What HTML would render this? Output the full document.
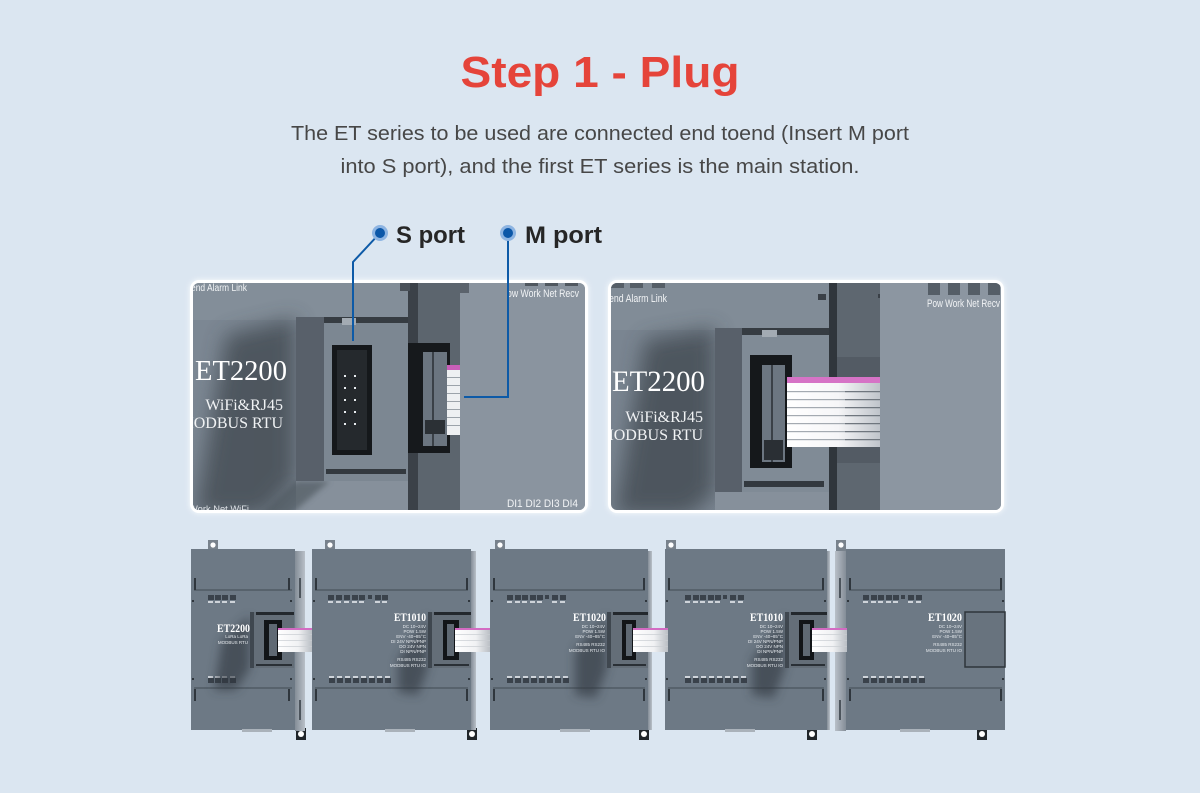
<!DOCTYPE html>
<html><head><meta charset="utf-8">
<style>
html,body{margin:0;padding:0;background:#dbe6f1;}
svg{display:block}
</style></head><body>
<svg width="1200" height="793" viewBox="0 0 1200 793" xmlns="http://www.w3.org/2000/svg" font-family="Liberation Sans, sans-serif">
<defs>
 <clipPath id="cl"><rect x="193" y="283" width="392" height="227" rx="6"/></clipPath>
 <clipPath id="cr"><rect x="611" y="283" width="390" height="227" rx="6"/></clipPath>
 <filter id="b3" x="-50%" y="-50%" width="200%" height="200%"><feGaussianBlur stdDeviation="3"/></filter>
 <filter id="b5" x="-50%" y="-50%" width="200%" height="200%"><feGaussianBlur stdDeviation="5"/></filter>
 <filter id="b10" x="-50%" y="-50%" width="200%" height="200%"><feGaussianBlur stdDeviation="10"/></filter>
 <linearGradient id="rib" x1="0" x2="1"><stop offset="0" stop-color="#ffffff"/><stop offset="0.55" stop-color="#f6f6f8"/><stop offset="1" stop-color="#bfc4ca"/></linearGradient>
 <linearGradient id="ribs" x1="0" x2="1"><stop offset="0" stop-color="#ffffff"/><stop offset="0.6" stop-color="#f0f1f3"/><stop offset="1" stop-color="#b9bec4"/></linearGradient>
 <linearGradient id="side" x1="0" x2="1"><stop offset="0" stop-color="#848d97"/><stop offset="1" stop-color="#b9c0c8"/></linearGradient>
 <linearGradient id="sideL" x1="0" x2="1"><stop offset="0" stop-color="#b9c0c8"/><stop offset="1" stop-color="#848d97"/></linearGradient>
</defs>
<rect width="1200" height="793" fill="#dbe6f1"/>

<!-- Title -->
<text x="600" y="87" text-anchor="middle" font-size="44" font-weight="bold" fill="#e5443a" textLength="279" lengthAdjust="spacingAndGlyphs">Step 1 - Plug</text>
<text x="600" y="140" text-anchor="middle" font-size="20" fill="#474747" textLength="618" lengthAdjust="spacingAndGlyphs">The ET series to be used are connected end toend (Insert M port</text>
<text x="600" y="173" text-anchor="middle" font-size="20" fill="#474747" textLength="519" lengthAdjust="spacingAndGlyphs">into S port), and the first ET series is the main station.</text>

<!-- ============ LEFT PANEL ============ -->
<rect x="190" y="280" width="398" height="233" rx="9" fill="#ffffff" opacity="0.9" filter="url(#b3)"/>
<rect x="190" y="280" width="398" height="233" rx="9" fill="#ffffff"/>
<g clip-path="url(#cl)">
 <rect x="190" y="280" width="400" height="235" fill="#7c8793"/>
 <rect x="190" y="280" width="218" height="40" fill="#838e99"/>
 <polygon points="226,335 296,318 296,480 265,515 195,515" fill="#3a4249" opacity="0.7" filter="url(#b10)"/>
 <rect x="296" y="481" width="112" height="34" fill="#86909b"/>
 <polygon points="296,481 330,481 290,515 260,515" fill="#4a525a" opacity="0.6" filter="url(#b3)"/>
 <!-- cover -->
 <rect x="296" y="317" width="28" height="164" fill="#58606a"/>
 <rect x="324" y="317" width="84" height="164" fill="#7c8792"/>
 <rect x="324" y="317" width="84" height="6" fill="#363c42"/>
 <rect x="342" y="318" width="14" height="7" fill="#a3abb3"/>
 <rect x="326" y="469" width="80" height="5" fill="#33393f"/>
 <!-- S connector -->
 <rect x="332" y="345" width="40" height="110" fill="#15181b"/>
 <rect x="337" y="350" width="30" height="100" fill="#25292d"/>
 <g fill="#e8ecef">
  <rect x="344" y="375" width="2" height="2"/><rect x="354" y="375" width="2" height="2"/>
  <rect x="344" y="387" width="2" height="2"/><rect x="354" y="387" width="2" height="2"/>
  <rect x="344" y="399" width="2" height="2"/><rect x="354" y="399" width="2" height="2"/>
  <rect x="344" y="411" width="2" height="2"/><rect x="354" y="411" width="2" height="2"/>
  <rect x="344" y="423" width="2" height="2"/><rect x="354" y="423" width="2" height="2"/>
 </g>
 <!-- dark column -->
 <rect x="408" y="280" width="52" height="235" fill="#5c656e"/>
 <rect x="408" y="280" width="10" height="235" fill="#3b4148"/>
 <rect x="400" y="283" width="10" height="8" fill="#4a5159"/>
 <!-- M connector -->
 <rect x="408" y="343" width="42" height="110" fill="#16191c"/>
 <rect x="423" y="352" width="24" height="94" fill="#6b7580"/>
 <rect x="432" y="352" width="2" height="94" fill="#3a4047"/>
 <rect x="425" y="420" width="20" height="14" fill="#2b3035"/>
 <!-- ribbon -->
 <rect x="447" y="365" width="13" height="70" fill="#eef0f2"/>
 <rect x="447" y="365" width="13" height="5" fill="#c95fb9"/>
 <g fill="#9ca3aa">
  <rect x="447" y="377" width="13" height="1"/><rect x="447" y="385" width="13" height="1"/>
  <rect x="447" y="393" width="13" height="1"/><rect x="447" y="401" width="13" height="1"/>
  <rect x="447" y="409" width="13" height="1"/><rect x="447" y="417" width="13" height="1"/>
  <rect x="447" y="425" width="13" height="1"/>
 </g>
 <!-- right face -->
 <rect x="460" y="280" width="130" height="235" fill="#8a949f"/>
 <rect x="460" y="283" width="9" height="10" fill="#5b636c"/>
 <g fill="#505860">
  <rect x="525" y="283" width="13" height="3"/><rect x="545" y="283" width="13" height="3"/><rect x="565" y="283" width="13" height="3"/>
 </g>
 <!-- labels -->
 <text x="191" y="291" font-size="10" fill="#f2f4f6" textLength="56" lengthAdjust="spacingAndGlyphs">end Alarm Link</text>
 <text x="507" y="297" font-size="11" fill="#f2f4f6" textLength="72" lengthAdjust="spacingAndGlyphs">ow  Work  Net  Recv</text>
 <text x="507" y="507" font-size="11" fill="#f2f4f6" textLength="71" lengthAdjust="spacingAndGlyphs">DI1  DI2  DI3  DI4</text>
 <text x="189" y="512" font-size="9" fill="#e0e4e8" textLength="60" lengthAdjust="spacingAndGlyphs">Work  Net  WiFi</text>
 <text x="195" y="380" font-family="Liberation Serif, serif" font-size="28" fill="#ffffff" textLength="92" lengthAdjust="spacingAndGlyphs">ET2200</text>
 <text x="283" y="410" text-anchor="end" font-family="Liberation Serif, serif" font-size="16" fill="#f0f2f4">WiFi&amp;RJ45</text>
 <text x="283" y="428" text-anchor="end" font-family="Liberation Serif, serif" font-size="16" fill="#f0f2f4">MODBUS  RTU</text>
</g>

<!-- ============ RIGHT PANEL ============ -->
<rect x="608" y="280" width="396" height="233" rx="9" fill="#ffffff" opacity="0.9" filter="url(#b3)"/>
<rect x="608" y="280" width="396" height="233" rx="9" fill="#ffffff"/>
<g clip-path="url(#cr)">
 <rect x="608" y="280" width="400" height="235" fill="#7a8591"/>
 <rect x="608" y="280" width="224" height="50" fill="#818c97"/>
 <polygon points="645,340 715,328 715,492 690,515 615,515" fill="#3a4249" opacity="0.7" filter="url(#b10)"/>
 <rect x="715" y="492" width="114" height="23" fill="#86909b"/>
 <!-- cover -->
 <rect x="715" y="328" width="27" height="164" fill="#58606a"/>
 <rect x="742" y="328" width="87" height="164" fill="#808b96"/>
 <rect x="742" y="328" width="87" height="7" fill="#363c42"/>
 <rect x="762" y="330" width="15" height="7" fill="#a3abb3"/>
 <rect x="744" y="481" width="80" height="6" fill="#33393f"/>
 <!-- dark column -->
 <rect x="829" y="280" width="51" height="235" fill="#5e6770"/>
 <rect x="829" y="280" width="8" height="235" fill="#30363c"/>
 <rect x="837" y="357" width="43" height="20" fill="#535b64"/>
 <rect x="837" y="447" width="43" height="16" fill="#535b64"/>
 <path d="M818 294 h8 v6 h-8z M878 294 h10 v4 h-10z" fill="#3a4047"/>
 <!-- connector -->
 <rect x="750" y="355" width="42" height="113" fill="#15181b"/>
 <rect x="762" y="365" width="23" height="97" fill="#6c7681"/>
 <rect x="771" y="365" width="2" height="97" fill="#3a4047"/>
 <rect x="764" y="440" width="19" height="20" fill="#2a2f34"/>
 <!-- ribbon -->
 <rect x="787" y="377" width="93" height="70" fill="url(#rib)"/>
 <rect x="787" y="377" width="93" height="6" fill="#d673c6"/>
 <g fill="#a4aab1">
  <rect x="787" y="391" width="93" height="1.2"/><rect x="787" y="399" width="93" height="1.2"/>
  <rect x="787" y="407" width="93" height="1.2"/><rect x="787" y="415" width="93" height="1.2"/>
  <rect x="787" y="423" width="93" height="1.2"/><rect x="787" y="431" width="93" height="1.2"/>
  <rect x="787" y="439" width="93" height="1.2"/>
 </g>
 <g fill="#6f767e">
  <rect x="845" y="391" width="35" height="1.2"/><rect x="845" y="399" width="35" height="1.2"/>
  <rect x="845" y="407" width="35" height="1.2"/><rect x="845" y="415" width="35" height="1.2"/>
  <rect x="845" y="423" width="35" height="1.2"/><rect x="845" y="431" width="35" height="1.2"/>
  <rect x="845" y="439" width="35" height="1.2"/>
 </g>
 <!-- right face -->
 <rect x="880" y="280" width="125" height="235" fill="#8c96a1"/>
 <g fill="#555e67">
  <rect x="928" y="283" width="12" height="12"/><rect x="948" y="283" width="12" height="12"/>
  <rect x="968" y="283" width="12" height="12"/><rect x="988" y="283" width="12" height="12"/>
  <rect x="611" y="283" width="13" height="5"/><rect x="630" y="283" width="13" height="5"/><rect x="652" y="283" width="13" height="5"/>
 </g>
 <text x="609" y="302" font-size="11" fill="#f2f4f6" textLength="58" lengthAdjust="spacingAndGlyphs">end Alarm Link</text>
 <text x="927" y="307" font-size="11" fill="#f2f4f6" textLength="73" lengthAdjust="spacingAndGlyphs">Pow  Work  Net  Recv</text>
 <text x="612" y="391" font-family="Liberation Serif, serif" font-size="30" fill="#ffffff" textLength="93" lengthAdjust="spacingAndGlyphs">ET2200</text>
 <text x="703" y="422" text-anchor="end" font-family="Liberation Serif, serif" font-size="16" fill="#f0f2f4">WiFi&amp;RJ45</text>
 <text x="703" y="440" text-anchor="end" font-family="Liberation Serif, serif" font-size="16" fill="#f0f2f4">MODBUS  RTU</text>
</g>

<!-- callout lines -->
<polyline points="380,233 353,262 353,341" fill="none" stroke="#0d5aa7" stroke-width="2"/>
<polyline points="508,233 508,397 464,397" fill="none" stroke="#0d5aa7" stroke-width="2"/>
<circle cx="380" cy="233" r="8" fill="#8db4e2"/><circle cx="380" cy="233" r="5" fill="#0b57a8"/>
<circle cx="508" cy="233" r="8" fill="#8db4e2"/><circle cx="508" cy="233" r="5" fill="#0b57a8"/>
<text x="396" y="243" font-size="24" font-weight="bold" fill="#262626" textLength="69" lengthAdjust="spacingAndGlyphs">S port</text>
<text x="525" y="243" font-size="24" font-weight="bold" fill="#262626" textLength="77" lengthAdjust="spacingAndGlyphs">M port</text>

<!-- ============ BOTTOM ROW ============ -->
<g fill="#78828c">
 <rect x="208" y="540" width="10" height="11"/><rect x="325" y="540" width="10" height="11"/>
 <rect x="495" y="540" width="10" height="11"/><rect x="666" y="540" width="10" height="11"/>
 <rect x="836" y="540" width="10" height="11"/>
</g>
<g fill="#ffffff">
 <circle cx="213" cy="545" r="2.6"/><circle cx="330" cy="545" r="2.6"/><circle cx="500" cy="545" r="2.6"/>
 <circle cx="671" cy="545" r="2.6"/><circle cx="841" cy="545" r="2.6"/>
</g>
<g fill="#20252a">
 <rect x="296" y="728" width="10" height="12"/><rect x="467" y="728" width="10" height="12"/>
 <rect x="639" y="728" width="10" height="12"/><rect x="807" y="728" width="10" height="12"/>
 <rect x="977" y="728" width="10" height="12"/>
</g>
<g fill="#ffffff">
 <circle cx="301" cy="734" r="3"/><circle cx="472" cy="734" r="3"/><circle cx="644" cy="734" r="3"/>
 <circle cx="812" cy="734" r="3"/><circle cx="982" cy="734" r="3"/>
</g>

<g fill="#6d7985">
 <rect x="191" y="549" width="104" height="181"/>
 <rect x="312" y="549" width="159" height="181"/>
 <rect x="490" y="549" width="158" height="181"/>
 <rect x="665" y="549" width="162" height="181"/>
 <rect x="846" y="549" width="159" height="181"/>
</g>
<rect x="295" y="551" width="10" height="180" fill="url(#side)"/>
<rect x="471" y="551" width="5" height="179" fill="url(#side)"/>
<rect x="648" y="551" width="4" height="179" fill="url(#side)"/>
<rect x="827" y="551" width="3" height="179" fill="url(#side)"/>
<rect x="835" y="551" width="11" height="180" fill="url(#sideL)"/>
<g fill="#4c545c">
 <rect x="299" y="578" width="2" height="20"/><rect x="299" y="700" width="2" height="20"/>
 <rect x="839" y="578" width="2" height="20"/><rect x="839" y="700" width="2" height="20"/>
</g>
<g fill="#aab2ba">
 <rect x="242" y="729" width="30" height="3"/><rect x="385" y="729" width="30" height="3"/>
 <rect x="560" y="729" width="30" height="3"/><rect x="725" y="729" width="30" height="3"/><rect x="900" y="729" width="30" height="3"/>
</g>

<g fill="#57626c">
 <rect x="194" y="589" width="98" height="2"/><rect x="315" y="589" width="153" height="2"/>
 <rect x="493" y="589" width="152" height="2"/><rect x="668" y="589" width="156" height="2"/>
 <rect x="849" y="589" width="153" height="2"/>
 <rect x="194" y="687" width="98" height="2"/><rect x="315" y="687" width="153" height="2"/>
 <rect x="493" y="687" width="152" height="2"/><rect x="668" y="687" width="156" height="2"/>
 <rect x="849" y="687" width="153" height="2"/>
</g>
<g fill="#2f363d">
 <rect x="194" y="578" width="2" height="12"/><rect x="288" y="578" width="2" height="12"/>
 <rect x="194" y="689" width="2" height="12"/><rect x="288" y="689" width="2" height="12"/>
 <rect x="315" y="578" width="2" height="12"/><rect x="466" y="578" width="2" height="12"/>
 <rect x="315" y="689" width="2" height="12"/><rect x="466" y="689" width="2" height="12"/>
 <rect x="493" y="578" width="2" height="12"/><rect x="643" y="578" width="2" height="12"/>
 <rect x="493" y="689" width="2" height="12"/><rect x="643" y="689" width="2" height="12"/>
 <rect x="668" y="578" width="2" height="12"/><rect x="822" y="578" width="2" height="12"/>
 <rect x="668" y="689" width="2" height="12"/><rect x="822" y="689" width="2" height="12"/>
 <rect x="849" y="578" width="2" height="12"/><rect x="1000" y="578" width="2" height="12"/>
 <rect x="849" y="689" width="2" height="12"/><rect x="1000" y="689" width="2" height="12"/>
 <rect x="192" y="600" width="2" height="2"/><rect x="290" y="600" width="2" height="2"/>
 <rect x="192" y="678" width="2" height="2"/><rect x="290" y="678" width="2" height="2"/>
 <rect x="313" y="600" width="2" height="2"/><rect x="468" y="600" width="2" height="2"/>
 <rect x="313" y="678" width="2" height="2"/><rect x="468" y="678" width="2" height="2"/>
 <rect x="491" y="600" width="2" height="2"/><rect x="645" y="600" width="2" height="2"/>
 <rect x="491" y="678" width="2" height="2"/><rect x="645" y="678" width="2" height="2"/>
 <rect x="666" y="600" width="2" height="2"/><rect x="824" y="600" width="2" height="2"/>
 <rect x="666" y="678" width="2" height="2"/><rect x="824" y="678" width="2" height="2"/>
 <rect x="847" y="600" width="2" height="2"/><rect x="1002" y="600" width="2" height="2"/>
 <rect x="847" y="678" width="2" height="2"/><rect x="1002" y="678" width="2" height="2"/>
</g>

<g fill="#3a424b">
 <rect x="208" y="595" width="6" height="5"/><rect x="215" y="595" width="6" height="5"/><rect x="222" y="595" width="6" height="5"/><rect x="230" y="595" width="6" height="5"/>
 <rect x="328" y="595" width="6" height="5"/><rect x="336" y="595" width="6" height="5"/><rect x="344" y="595" width="6" height="5"/><rect x="352" y="595" width="6" height="5"/><rect x="359" y="595" width="6" height="5"/><rect x="368" y="595" width="4" height="4"/><rect x="375" y="595" width="6" height="5"/><rect x="382" y="595" width="6" height="5"/>
 <rect x="507" y="595" width="6" height="5"/><rect x="515" y="595" width="6" height="5"/><rect x="522" y="595" width="6" height="5"/><rect x="530" y="595" width="6" height="5"/><rect x="537" y="595" width="6" height="5"/><rect x="545" y="595" width="4" height="4"/><rect x="552" y="595" width="6" height="5"/><rect x="560" y="595" width="6" height="5"/>
 <rect x="685" y="595" width="6" height="5"/><rect x="693" y="595" width="6" height="5"/><rect x="700" y="595" width="6" height="5"/><rect x="708" y="595" width="6" height="5"/><rect x="715" y="595" width="6" height="5"/><rect x="723" y="595" width="4" height="4"/><rect x="730" y="595" width="6" height="5"/><rect x="738" y="595" width="6" height="5"/>
 <rect x="863" y="595" width="6" height="5"/><rect x="871" y="595" width="6" height="5"/><rect x="878" y="595" width="6" height="5"/><rect x="886" y="595" width="6" height="5"/><rect x="893" y="595" width="6" height="5"/><rect x="901" y="595" width="4" height="4"/><rect x="908" y="595" width="6" height="5"/><rect x="916" y="595" width="6" height="5"/>
</g>
<g fill="#dfe3e8" opacity="0.85">
 <rect x="208" y="601" width="5" height="2"/><rect x="215" y="601" width="5" height="2"/><rect x="222" y="601" width="5" height="2"/><rect x="230" y="601" width="5" height="2"/>
 <rect x="328" y="601" width="5" height="2"/><rect x="336" y="601" width="5" height="2"/><rect x="344" y="601" width="5" height="2"/><rect x="352" y="601" width="5" height="2"/><rect x="359" y="601" width="5" height="2"/><rect x="375" y="601" width="5" height="2"/><rect x="382" y="601" width="5" height="2"/>
 <rect x="507" y="601" width="5" height="2"/><rect x="515" y="601" width="5" height="2"/><rect x="522" y="601" width="5" height="2"/><rect x="530" y="601" width="5" height="2"/><rect x="537" y="601" width="5" height="2"/><rect x="552" y="601" width="5" height="2"/><rect x="560" y="601" width="5" height="2"/>
 <rect x="685" y="601" width="5" height="2"/><rect x="693" y="601" width="5" height="2"/><rect x="700" y="601" width="5" height="2"/><rect x="708" y="601" width="5" height="2"/><rect x="715" y="601" width="5" height="2"/><rect x="730" y="601" width="5" height="2"/><rect x="738" y="601" width="5" height="2"/>
 <rect x="863" y="601" width="5" height="2"/><rect x="871" y="601" width="5" height="2"/><rect x="878" y="601" width="5" height="2"/><rect x="886" y="601" width="5" height="2"/><rect x="893" y="601" width="5" height="2"/><rect x="908" y="601" width="5" height="2"/><rect x="916" y="601" width="5" height="2"/>
</g>
<g fill="#e2e6ea" opacity="0.85">
 <rect x="208" y="676" width="5" height="2"/><rect x="215" y="676" width="5" height="2"/><rect x="222" y="676" width="5" height="2"/><rect x="230" y="676" width="5" height="2"/>
 <rect x="329" y="676" width="5" height="2"/><rect x="337" y="676" width="5" height="2"/><rect x="345" y="676" width="5" height="2"/><rect x="353" y="676" width="5" height="2"/><rect x="361" y="676" width="5" height="2"/><rect x="369" y="676" width="5" height="2"/><rect x="377" y="676" width="5" height="2"/><rect x="385" y="676" width="5" height="2"/>
 <rect x="507" y="676" width="5" height="2"/><rect x="515" y="676" width="5" height="2"/><rect x="523" y="676" width="5" height="2"/><rect x="531" y="676" width="5" height="2"/><rect x="539" y="676" width="5" height="2"/><rect x="547" y="676" width="5" height="2"/><rect x="555" y="676" width="5" height="2"/><rect x="563" y="676" width="5" height="2"/>
 <rect x="685" y="676" width="5" height="2"/><rect x="693" y="676" width="5" height="2"/><rect x="701" y="676" width="5" height="2"/><rect x="709" y="676" width="5" height="2"/><rect x="717" y="676" width="5" height="2"/><rect x="725" y="676" width="5" height="2"/><rect x="733" y="676" width="5" height="2"/><rect x="741" y="676" width="5" height="2"/>
 <rect x="863" y="676" width="5" height="2"/><rect x="871" y="676" width="5" height="2"/><rect x="879" y="676" width="5" height="2"/><rect x="887" y="676" width="5" height="2"/><rect x="895" y="676" width="5" height="2"/><rect x="903" y="676" width="5" height="2"/><rect x="911" y="676" width="5" height="2"/><rect x="919" y="676" width="5" height="2"/>
</g>
<g fill="#3a424b">
 <rect x="208" y="678" width="6" height="5"/><rect x="215" y="678" width="6" height="5"/><rect x="222" y="678" width="6" height="5"/><rect x="230" y="678" width="6" height="5"/>
 <rect x="329" y="678" width="6" height="5"/><rect x="337" y="678" width="6" height="5"/><rect x="345" y="678" width="6" height="5"/><rect x="353" y="678" width="6" height="5"/><rect x="361" y="678" width="6" height="5"/><rect x="369" y="678" width="6" height="5"/><rect x="377" y="678" width="6" height="5"/><rect x="385" y="678" width="6" height="5"/>
 <rect x="507" y="678" width="6" height="5"/><rect x="515" y="678" width="6" height="5"/><rect x="523" y="678" width="6" height="5"/><rect x="531" y="678" width="6" height="5"/><rect x="539" y="678" width="6" height="5"/><rect x="547" y="678" width="6" height="5"/><rect x="555" y="678" width="6" height="5"/><rect x="563" y="678" width="6" height="5"/>
 <rect x="685" y="678" width="6" height="5"/><rect x="693" y="678" width="6" height="5"/><rect x="701" y="678" width="6" height="5"/><rect x="709" y="678" width="6" height="5"/><rect x="717" y="678" width="6" height="5"/><rect x="725" y="678" width="6" height="5"/><rect x="733" y="678" width="6" height="5"/><rect x="741" y="678" width="6" height="5"/>
 <rect x="863" y="678" width="6" height="5"/><rect x="871" y="678" width="6" height="5"/><rect x="879" y="678" width="6" height="5"/><rect x="887" y="678" width="6" height="5"/><rect x="895" y="678" width="6" height="5"/><rect x="903" y="678" width="6" height="5"/><rect x="911" y="678" width="6" height="5"/><rect x="919" y="678" width="6" height="5"/>
</g>

<g fill="#2f363d" opacity="0.6" filter="url(#b5)">
 <polygon points="222,640 250,616 250,668 236,690 214,690"/>
 <polygon points="398,660 428,616 428,668 418,695 398,692"/>
 <polygon points="575,650 607,616 607,668 596,698 575,695"/>
 <polygon points="752,660 785,616 785,668 774,698 752,695"/>
</g>

<g>
 <rect x="250" y="612" width="44" height="56" fill="#646e78"/>
 <rect x="250" y="612" width="4" height="56" fill="#3f474f"/>
 <rect x="256" y="612" width="38" height="3" fill="#23282d"/>
 <rect x="256" y="664" width="36" height="2" fill="#2a3036"/>
 <rect x="264" y="620" width="18" height="40" fill="#121518"/>
 <rect x="269" y="624" width="8" height="32" fill="#5f6973"/>

 <rect x="428" y="612" width="43" height="56" fill="#646e78"/>
 <rect x="428" y="612" width="4" height="56" fill="#3f474f"/>
 <rect x="434" y="612" width="37" height="3" fill="#23282d"/>
 <rect x="434" y="664" width="35" height="2" fill="#2a3036"/>
 <rect x="443" y="620" width="16" height="40" fill="#121518"/>
 <rect x="447" y="624" width="7" height="32" fill="#5f6973"/>

 <rect x="607" y="612" width="41" height="56" fill="#646e78"/>
 <rect x="607" y="612" width="4" height="56" fill="#3f474f"/>
 <rect x="613" y="612" width="35" height="3" fill="#23282d"/>
 <rect x="613" y="664" width="33" height="2" fill="#2a3036"/>
 <rect x="622" y="620" width="14" height="40" fill="#121518"/>
 <rect x="626" y="624" width="6" height="32" fill="#5f6973"/>

 <rect x="785" y="612" width="42" height="56" fill="#646e78"/>
 <rect x="785" y="612" width="4" height="56" fill="#3f474f"/>
 <rect x="791" y="612" width="36" height="3" fill="#23282d"/>
 <rect x="791" y="664" width="34" height="2" fill="#2a3036"/>
 <rect x="799" y="620" width="15" height="40" fill="#121518"/>
 <rect x="803" y="624" width="7" height="32" fill="#5f6973"/>

 <rect x="965" y="612" width="40" height="55" fill="#68737e" stroke="#2e353b" stroke-width="1.5"/>
</g>
<g>
 <rect x="278" y="628" width="34" height="24" fill="url(#ribs)"/>
 <rect x="278" y="628" width="34" height="2" fill="#d36cc3"/>
 <rect x="455" y="628" width="35" height="24" fill="url(#ribs)"/>
 <rect x="455" y="628" width="35" height="2" fill="#d36cc3"/>
 <rect x="633" y="628" width="35" height="24" fill="url(#ribs)"/>
 <rect x="633" y="628" width="35" height="2" fill="#d36cc3"/>
 <rect x="812" y="628" width="35" height="24" fill="url(#ribs)"/>
 <rect x="812" y="628" width="35" height="2" fill="#d36cc3"/>
</g>
<g fill="#c9cdd2">
 <rect x="278" y="634" width="34" height="0.7"/><rect x="278" y="640" width="34" height="0.7"/><rect x="278" y="646" width="34" height="0.7"/>
 <rect x="455" y="634" width="35" height="0.7"/><rect x="455" y="640" width="35" height="0.7"/><rect x="455" y="646" width="35" height="0.7"/>
 <rect x="633" y="634" width="35" height="0.7"/><rect x="633" y="640" width="35" height="0.7"/><rect x="633" y="646" width="35" height="0.7"/>
 <rect x="812" y="634" width="35" height="0.7"/><rect x="812" y="640" width="35" height="0.7"/><rect x="812" y="646" width="35" height="0.7"/>
</g>

<g font-family="Liberation Serif, serif" font-weight="bold" fill="#ffffff">
 <text x="217" y="632" font-size="12" textLength="33" lengthAdjust="spacingAndGlyphs">ET2200</text>
 <text x="394" y="621" font-size="12" textLength="32" lengthAdjust="spacingAndGlyphs">ET1010</text>
 <text x="573" y="621" font-size="12" textLength="33" lengthAdjust="spacingAndGlyphs">ET1020</text>
 <text x="750" y="621" font-size="12" textLength="33" lengthAdjust="spacingAndGlyphs">ET1010</text>
 <text x="928" y="621" font-size="12" textLength="34" lengthAdjust="spacingAndGlyphs">ET1020</text>
</g>
<g font-size="4.5" fill="#e6eaee" text-anchor="end">
 <text x="248" y="638">LoRa  LoRa</text>
 <text x="248" y="644">MODBUS  RTU</text>

 <text x="426" y="628">DC 10~24V</text>
 <text x="426" y="633">POW  1.5W</text>
 <text x="426" y="638">ENV -40~85°C</text>
 <text x="426" y="643">DI 24V NPN/PNP</text>
 <text x="426" y="648">DO 24V NPN</text>
 <text x="426" y="653">DI NPN/PNP</text>
 <text x="426" y="661">RS485  RS232</text>
 <text x="426" y="667">MODBUS  RTU  IO</text>

 <text x="605" y="628">DC 10~24V</text>
 <text x="605" y="633">POW  1.5W</text>
 <text x="605" y="638">ENV -40~85°C</text>
 <text x="605" y="646">RS485  RS232</text>
 <text x="605" y="652">MODBUS  RTU  IO</text>

 <text x="783" y="628">DC 10~24V</text>
 <text x="783" y="633">POW  1.5W</text>
 <text x="783" y="638">ENV -40~85°C</text>
 <text x="783" y="643">DI 24V NPN/PNP</text>
 <text x="783" y="648">DO 24V NPN</text>
 <text x="783" y="653">DI NPN/PNP</text>
 <text x="783" y="661">RS485  RS232</text>
 <text x="783" y="667">MODBUS  RTU  IO</text>

 <text x="962" y="628">DC 10~24V</text>
 <text x="962" y="633">POW  1.5W</text>
 <text x="962" y="638">ENV -40~85°C</text>
 <text x="962" y="646">RS485  RS232</text>
 <text x="962" y="652">MODBUS  RTU  IO</text>
</g>
</svg>
</body></html>
